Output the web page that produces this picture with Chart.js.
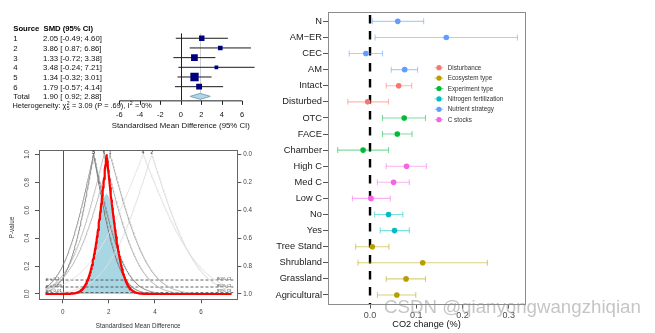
<!DOCTYPE html>
<html><head><meta charset="utf-8">
<script src="https://cdn.jsdelivr.net/npm/chart.js@4/dist/chart.umd.min.js"></script>
<style>
html,body{margin:0;padding:0;background:#fff}
body{width:655px;height:333px;position:relative;overflow:hidden;font-family:"Liberation Sans",Arial,sans-serif}
canvas{position:absolute;display:block}
#wm{position:absolute;left:384px;top:296px;font-size:18.7px;line-height:22px;color:rgba(140,140,140,0.5);white-space:nowrap;font-family:"Liberation Sans",Arial,sans-serif;pointer-events:none}
</style></head>
<body>
<canvas id="ca" width="270" height="135" style="left:0;top:0;width:270px;height:135px"></canvas>
<canvas id="cb" width="260" height="193" style="left:0;top:140px;width:260px;height:193px"></canvas>
<canvas id="cc" width="395" height="333" style="left:260px;top:0;width:395px;height:333px"></canvas>
<div id="wm">CSDN @qianyongwangzhiqian</div>
<script>
// ---------------- DATA ----------------
// Forest plot (meta-analysis)
const studyLabels = ['1','2','3','4','5','6'];
const studySMD   = [2.05, 3.86, 1.33, 3.48, 1.34, 1.79];
const studyLower = [-0.49, 0.87, -0.72, -0.24, -0.32, -0.57];
const studyUpper = [4.60, 6.86, 3.38, 7.21, 3.01, 4.14];
const pooledLabel = 'Total';
const pooledSMD = 1.90, pooledLower = 0.92, pooledUpper = 2.88;
const hetChi2 = '3.09', hetDf = '5', hetP = '.69', hetI2 = '0%';
const forestTicks = [-6, -4, -2, 0, 2, 4, 6];

// Drapery (p-value function) plot
const pvalTicks = [0, 0.2, 0.4, 0.6, 0.8, 1.0];
const smdTicks = [0, 2, 4, 6];
const thresholdP = [0.1, 0.05, 0.01];
const thresholdPLabel = ['p = 0.1', 'p = 0.05', 'p = 0.01'];
const thresholdCILabel = ['90% CI', '95% CI', '99% CI'];
const predRegionX = [0.45, 0.70, 0.98, 1.12, 1.30, 1.50, 1.65, 1.78, 1.90, 2.03, 2.17, 2.35, 2.55, 2.72, 2.90, 3.15, 3.45];
const predRegionP = [0.00, 0.01, 0.05, 0.10, 0.20, 0.40, 0.60, 0.69, 0.72, 0.69, 0.60, 0.40, 0.20, 0.10, 0.05, 0.01, 0.00];

// CO2 change dot-whisker chart
const categories = ['N','AM\u2212ER','CEC','AM','Intact','Disturbed','OTC','FACE','Chamber','High C','Med C','Low C','No','Yes','Tree Stand','Shrubland','Grassland','Agricultural'];
const categoryGroup = ['Nutrient strategy','Nutrient strategy','Nutrient strategy','Nutrient strategy','Disturbance','Disturbance','Experiment type','Experiment type','Experiment type','C stocks','C stocks','C stocks','Nitrogen fertilization','Nitrogen fertilization','Ecosystem type','Ecosystem type','Ecosystem type','Ecosystem type'];
const co2Mean  = [0.060, 0.165, -0.009, 0.075, 0.062, -0.005, 0.074, 0.059, -0.015, 0.079, 0.051, 0.002, 0.040, 0.053, 0.005, 0.114, 0.078, 0.058];
const co2Lower = [0.005, 0.011, -0.045, 0.046, 0.035, -0.048, 0.027, 0.027, -0.070, 0.035, 0.016, -0.038, 0.010, 0.022, -0.031, -0.026, 0.035, 0.016];
const co2Upper = [0.116, 0.319, 0.027, 0.103, 0.090, 0.040, 0.120, 0.091, 0.040, 0.122, 0.085, 0.044, 0.071, 0.085, 0.041, 0.254, 0.120, 0.099];
const groupNames = ['Disturbance','Ecosystem type','Experiment type','Nitrogen fertilization','Nutrient strategy','C stocks'];
const co2Ticks = [0.0, 0.1, 0.2, 0.3];

// ---------------- STYLE ----------------
const FONT = "'Liberation Sans', Arial, sans-serif";
Chart.defaults.animation = false;
Chart.defaults.font.family = FONT;
Chart.defaults.plugins.legend.display = false;
Chart.defaults.plugins.tooltip.enabled = false;
Chart.defaults.devicePixelRatio = 1;
const groupColors = ['#F8766D','#B79F00','#00BA38','#00BFC4','#619CFF','#F564E3'];
function hexA(h, a){const n=parseInt(h.slice(1),16);return `rgba(${n>>16&255},${n>>8&255},${n&255},${a})`;}
function txt(ctx, s, x, y, font, color, align, base){ctx.font=font;ctx.fillStyle=color;ctx.textAlign=align||'left';ctx.textBaseline=base||'middle';ctx.fillText(s,x,y);}

// ================= CHART A: forest plot =================
(function(){
  const n = studySMD.length;
  const se = studyLower.map((lo,i)=>(studyUpper[i]-lo)/3.92);
  const w = se.map(s=>1/(s*s));
  const wMax = Math.max(...w);
  const side = w.map(v=>8.3*Math.sqrt(v/wMax));
  const ds = [];
  studySMD.forEach((m,i)=>{
    ds.push({data:[{x:studyLower[i],y:i+1},{x:studyUpper[i],y:i+1}], showLine:true, borderColor:'#1a1a1a', borderWidth:1, pointRadius:0, order:2});
  });
  ds.push({data:studySMD.map((m,i)=>({x:m,y:i+1})), pointStyle:'rect', pointRadius:side.map(s=>s/Math.SQRT2), backgroundColor:'#00007f', borderColor:'#00007f', borderWidth:0, order:1});
  const fmt = v => (v<0 ? v.toFixed(2) : ' '+v.toFixed(2));
  const ciText = (m,lo,hi)=>`${m.toFixed(2)} [${fmt(lo)}; ${hi.toFixed(2)}]`;
  const plug = {
    id:'forestDeco',
    beforeDatasetsDraw(chart){
      const {ctx, scales:{x,y}} = chart;
      const top = y.getPixelForValue(0.5), axY = y.getPixelForValue(n+1)+4;
      ctx.save();
      ctx.lineWidth=1;
      ctx.strokeStyle='#cfcfcf';
      let px=Math.round(x.getPixelForValue(pooledSMD))+0.5;
      ctx.beginPath();ctx.moveTo(px,top);ctx.lineTo(px,axY);ctx.stroke();
      ctx.strokeStyle='#222';
      px=Math.round(x.getPixelForValue(0))+0.5;
      ctx.beginPath();ctx.moveTo(px,top);ctx.lineTo(px,axY);ctx.stroke();
      ctx.restore();
    },
    afterDatasetsDraw(chart){
      const {ctx, scales:{x,y}} = chart;
      ctx.save();
      const yt = y.getPixelForValue(n+1);
      ctx.beginPath();
      ctx.moveTo(x.getPixelForValue(pooledLower), yt);
      ctx.lineTo(x.getPixelForValue(pooledSMD), yt-3);
      ctx.lineTo(x.getPixelForValue(pooledUpper), yt);
      ctx.lineTo(x.getPixelForValue(pooledSMD), yt+3);
      ctx.closePath();
      ctx.fillStyle='#add8e6';ctx.fill();
      ctx.strokeStyle='#6f93a8';ctx.lineWidth=0.8;ctx.stroke();
      const f = `7.8px ${FONT}`, fb = `bold 7.7px ${FONT}`;
      txt(ctx,'Source',13.3,y.getPixelForValue(0)+0.5,fb,'#000');
      txt(ctx,'SMD (95% CI)',43.5,y.getPixelForValue(0)+0.5,fb,'#000');
      studySMD.forEach((m,i)=>{
        const py=y.getPixelForValue(i+1)+0.8;
        txt(ctx,studyLabels[i],13.3,py,f,'#111');
        txt(ctx,ciText(m,studyLower[i],studyUpper[i]),43,py,f,'#111');
      });
      const pt=y.getPixelForValue(n+1)+0.8;
      txt(ctx,pooledLabel,13.3,pt,f,'#111');
      txt(ctx,ciText(pooledSMD,pooledLower,pooledUpper),43,pt,f,'#111');
      const fh = `7.4px ${FONT}`, fs = `5.2px ${FONT}`;
      let hx=12.5; const hy=106;
      ctx.font=fh; ctx.fillStyle='#111'; ctx.textAlign='left'; ctx.textBaseline='middle';
      const s1='Heterogeneity: \u03c7'; ctx.fillText(s1,hx,hy); hx+=ctx.measureText(s1).width;
      ctx.font=fs; ctx.fillText(hetDf,hx+0.2,hy+2.2); ctx.fillText('2',hx+0.2,hy-2.6); hx+=Math.max(ctx.measureText(hetDf).width,ctx.measureText('2').width)+0.5;
      ctx.font=fh; const s2=` = ${hetChi2} (P = ${hetP}), I`; ctx.fillText(s2,hx,hy); hx+=ctx.measureText(s2).width;
      ctx.font=fs; ctx.fillText('2',hx+0.3,hy-2.6); hx+=ctx.measureText('2').width+0.5;
      ctx.font=fh; ctx.fillText(` = ${hetI2}`,hx,hy);
      const axY = y.getPixelForValue(n+1)+4.5;
      const x0=x.getPixelForValue(forestTicks[0]), x1=x.getPixelForValue(forestTicks[forestTicks.length-1]);
      ctx.strokeStyle='#222'; ctx.lineWidth=1;
      ctx.beginPath(); ctx.moveTo(x0,axY); ctx.lineTo(x1,axY);
      forestTicks.forEach(t=>{const px=Math.round(x.getPixelForValue(t))+0.5; ctx.moveTo(px,axY); ctx.lineTo(px,axY+4);});
      ctx.stroke();
      forestTicks.forEach(t=>txt(ctx,String(t),x.getPixelForValue(t),115,`7.5px ${FONT}`,'#111','center'));
      txt(ctx,'Standardised Mean Difference (95% CI)',(x0+x1)/2,125.7,`7.8px ${FONT}`,'#111','center');
      ctx.restore();
    }
  };
  new Chart(document.getElementById('ca'),{
    type:'scatter',
    data:{datasets:ds},
    options:{responsive:false,
      layout:{padding:{left:100,right:2,top:18.9,bottom:9.6}},
      scales:{x:{type:'linear',display:false,min:-7.9,max:8.147},
              y:{type:'linear',display:false,min:-1,max:10,reverse:true}}},
    plugins:[plug]
  });
})();

// ================= CHART B: drapery plot =================
(function(){
  function normCdf(z){const t=1/(1+0.2316419*Math.abs(z));const d=0.3989422804*Math.exp(-z*z/2);
    const p=d*t*(0.319381530+t*(-0.356563782+t*(1.781477937+t*(-1.821255978+t*1.330274429))));return z>0?1-p:p;}
  const xFrom=-0.75, xTo=7.33;
  function pCurve(est,lo,hi){
    const s=(hi-lo)/(2*1.959964);
    const xs=[];for(let k=0;xFrom+k*0.02<=xTo+1e-9;k++)xs.push(+(xFrom+k*0.02).toFixed(3));
    xs.push(est); xs.sort((a,b)=>a-b);
    return xs.map(x=>({x, y:2*(1-normCdf(Math.abs(x-est)/s))}));
  }
  const grays=['#b3b3b3','#dedede','#8c8c8c','#e3e3e3','#828282','#b8b8b8'];
  const ds=[];
  ds.push({data:predRegionX.map((x,i)=>({x,y:predRegionP[i]})), showLine:true, fill:'origin', backgroundColor:'#a9d6e3', borderWidth:0, pointRadius:0, order:5});
  thresholdP.forEach(p=>ds.push({data:[{x:xFrom,y:p},{x:xTo+0.07,y:p}], showLine:true, borderColor:'#3a3a3a', borderWidth:0.8, borderDash:[3,2], pointRadius:0, order:3}));
  studySMD.forEach((m,i)=>ds.push({data:pCurve(m,studyLower[i],studyUpper[i]), showLine:true, borderColor:grays[i], borderWidth:0.9, pointRadius:0, order:2}));
  ds.push({data:pCurve(pooledSMD,pooledLower,pooledUpper), showLine:true, borderColor:'#ff0000', borderWidth:2.2, pointRadius:0, order:0});
  const plug={
    id:'drapDeco',
    beforeDatasetsDraw(chart){
      const {ctx, chartArea:a, scales:{x}}=chart;
      ctx.save(); ctx.strokeStyle='#555'; ctx.lineWidth=1;
      const px=Math.round(x.getPixelForValue(0))+0.5;
      ctx.beginPath(); ctx.moveTo(px,a.top); ctx.lineTo(px,a.bottom); ctx.stroke(); ctx.restore();
    },
    afterDraw(chart){
      const {ctx, chartArea:a, scales:{x,y}}=chart;
      ctx.save();
      ctx.strokeStyle='#666'; ctx.lineWidth=1;
      ctx.strokeRect(Math.round(a.left)+0.5,Math.round(a.top)+0.5,Math.round(a.right-a.left),Math.round(a.bottom-a.top));
      pvalTicks.forEach(v=>{const py=y.getPixelForValue(v);ctx.save();ctx.translate(27,py);ctx.rotate(-Math.PI/2);
        txt(ctx,v.toFixed(1),0,0,`6.3px ${FONT}`,'#444','center');ctx.restore();});
      ctx.save();ctx.translate(12.7,87.5);ctx.rotate(-Math.PI/2);txt(ctx,'P-value',0,0,`6.3px ${FONT}`,'#333','center');ctx.restore();
      txt(ctx,'Standardised Mean Difference',(a.left+a.right)/2,186.7,`6.3px ${FONT}`,'#333','center');
      studySMD.forEach((m,i)=>txt(ctx,studyLabels[i],x.getPixelForValue(m),a.top+3,`bold 4.6px ${FONT}`,'#555','center'));
      thresholdP.forEach((p,i)=>{const py=y.getPixelForValue(p);
        txt(ctx,thresholdPLabel[i],x.getPixelForValue(xFrom)+0.5,py-1.6,`4.4px ${FONT}`,'#444','left');
        txt(ctx,thresholdCILabel[i],x.getPixelForValue(xTo)-0.5,py-1.6,`4.4px ${FONT}`,'#444','right');});
      ctx.restore();
    }
  };
  new Chart(document.getElementById('cb'),{
    type:'scatter',
    data:{datasets:ds},
    options:{responsive:false,
      layout:{padding:{left:0,right:0,top:10,bottom:0}},
      scales:{
        x:{type:'linear',position:'bottom',min:-1.03,max:7.57,
           afterBuildTicks:s=>{s.ticks=smdTicks.map(v=>({value:v}));},
           afterFit:s=>{s.height=33.7;},
           border:{display:false},
           grid:{drawOnChartArea:false,drawTicks:true,tickLength:4,color:'#555'},
           ticks:{font:{size:6.3},color:'#444',padding:5,maxRotation:0,callback:v=>String(v)}},
        y:{type:'linear',position:'left',min:-0.038,max:1.031,
           afterBuildTicks:s=>{s.ticks=pvalTicks.map(v=>({value:v}));},
           afterFit:s=>{s.width=39;},
           border:{display:false},
           grid:{drawOnChartArea:false,drawTicks:true,tickLength:4,color:'#555'},
           ticks:{display:false}},
        y2:{type:'linear',position:'right',min:-0.031,max:1.038,reverse:true,
           afterBuildTicks:s=>{s.ticks=pvalTicks.map(v=>({value:v}));},
           afterFit:s=>{s.width=22.7;},
           border:{display:false},
           grid:{drawOnChartArea:false,drawTicks:true,tickLength:4,color:'#555'},
           ticks:{font:{size:6.3},color:'#444',padding:2,callback:v=>Number(v).toFixed(1)}}
      }},
    plugins:[plug]
  });
})();

// ================= CHART C: CO2 change =================
(function(){
  const ds=[];
  categories.forEach((c,i)=>{
    const col=groupColors[groupNames.indexOf(categoryGroup[i])];
    ds.push({data:[{x:co2Lower[i],y:i},{x:co2Upper[i],y:i}], showLine:true, borderColor:hexA(col,0.5), borderWidth:1.1,
      pointStyle:'line', rotation:90, pointRadius:3, pointBorderColor:hexA(col,0.5), pointBorderWidth:1.1, order:2});
  });
  groupNames.forEach((g,gi)=>{
    const pts=[];categories.forEach((c,i)=>{if(categoryGroup[i]===g)pts.push({x:co2Mean[i],y:i});});
    ds.push({data:pts, pointRadius:2.8, backgroundColor:groupColors[gi], borderWidth:0, order:1});
  });
  const plug={
    id:'co2Deco',
    beforeDatasetsDraw(chart){
      const {ctx, chartArea:a, scales:{x}}=chart;
      ctx.save(); ctx.strokeStyle='#000'; ctx.lineWidth=2.4; ctx.setLineDash([8.5,7.5]); ctx.lineDashOffset=12.7;
      const px=x.getPixelForValue(0);
      ctx.beginPath(); ctx.moveTo(px,a.top); ctx.lineTo(px,a.bottom); ctx.stroke(); ctx.restore();
    },
    afterDraw(chart){
      const {ctx, chartArea:a}=chart;
      ctx.save();
      ctx.strokeStyle='#8c8c8c'; ctx.lineWidth=1;
      ctx.strokeRect(Math.round(a.left)+0.5,Math.round(a.top)+0.5,Math.round(a.right-a.left),Math.round(a.bottom-a.top));
      groupNames.forEach((g,i)=>{
        const ly=67.7+i*10.4, lx=179;
        ctx.strokeStyle=hexA(groupColors[i],0.5); ctx.lineWidth=1.1;
        ctx.beginPath(); ctx.moveTo(lx-4.5,ly); ctx.lineTo(lx+4.5,ly); ctx.stroke();
        ctx.fillStyle=groupColors[i]; ctx.beginPath(); ctx.arc(lx,ly,2.6,0,Math.PI*2); ctx.fill();
        txt(ctx,g,187.7,ly+0.3,`6.3px ${FONT}`,'#333','left');
      });
      txt(ctx,'CO2 change (%)',(a.left+a.right)/2,324.5,`9.2px ${FONT}`,'#111','center');
      ctx.restore();
    }
  };
  new Chart(document.getElementById('cc'),{
    type:'scatter',
    data:{datasets:ds},
    options:{responsive:false,
      layout:{padding:{left:0,right:130,top:11.7,bottom:0}},
      scales:{
        x:{type:'linear',position:'bottom',min:-0.0909,max:0.3353,
           afterBuildTicks:s=>{s.ticks=co2Ticks.map(v=>({value:v}));},
           afterFit:s=>{s.height=29;},
           border:{display:false},
           grid:{drawOnChartArea:false,drawTicks:true,tickLength:4.5,color:'#555'},
           ticks:{font:{size:9},color:'#4d4d4d',padding:1.5,maxRotation:0,callback:v=>Number(v).toFixed(1)}},
        y:{type:'linear',position:'left',min:-0.6,max:17.56,reverse:true,
           afterBuildTicks:s=>{s.ticks=categories.map((c,i)=>({value:i}));},
           afterFit:s=>{s.width=68;},
           border:{display:false},
           grid:{drawOnChartArea:false,drawTicks:true,tickLength:5,color:'#555'},
           ticks:{font:{size:9.3},color:'#1a1a1a',padding:1,autoSkip:false,callback:v=>categories[v]}}
      }},
    plugins:[plug]
  });
})();
</script>
</body></html>
